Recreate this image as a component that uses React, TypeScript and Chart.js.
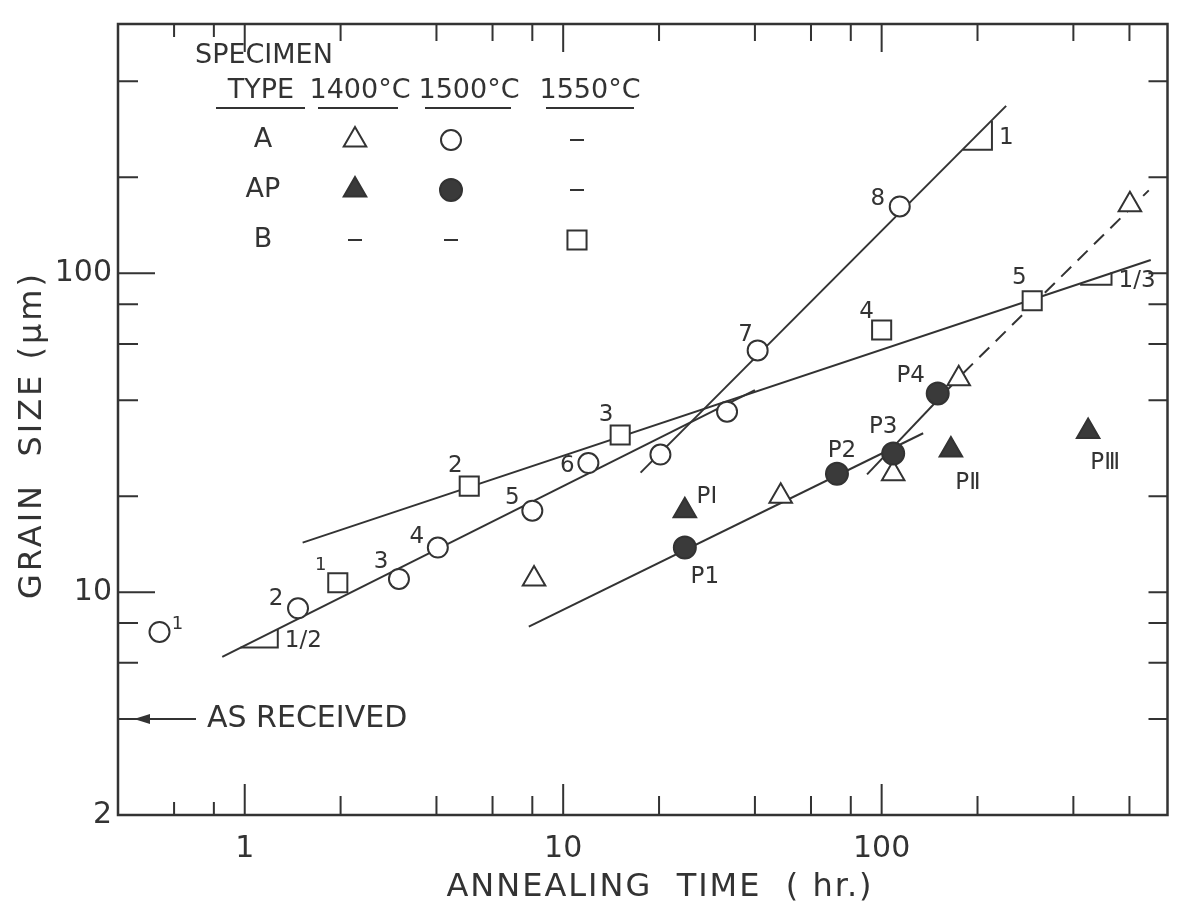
import React, { useEffect, useRef } from "react";
import { Chart, registerables } from "chart.js";
import { drawPoint } from "chart.js/helpers";

Chart.register(...registerables);

const FONT = '"DejaVu Sans", sans-serif';
const INK = "#333333";
const DARK = "#3a3a3a";

// ---- axis ticks ----
const xTickLabels = [1, 10, 100];
const yTickLabels = [2, 10, 100];
const xTickMarks = [0.6, 0.8, 1, 2, 4, 6, 8, 10, 20, 40, 60, 80, 100, 200, 400, 600];
const yTickMarks = [4, 6, 8, 10, 20, 40, 60, 80, 100, 200, 400];
const xMajor = [1, 10, 100];
const yMajor = [10, 100];

// ---- Type A, 1500°C (open circles) ----
const a1500Time = [0.54, 1.47, 3.05, 4.04, 8.0, 12.0, 20.2, 32.7, 40.8, 114];
const a1500Size = [7.5, 8.9, 11.0, 13.8, 18.0, 25.4, 27.0, 36.8, 57.3, 162];
const a1500Tags = ["1", "2", "3", "4", "5", "6", "", "", "7", "8"];

// ---- Type AP, 1500°C (filled circles) ----
const ap1500Time = [24.1, 72.4, 108.7, 150];
const ap1500Size = [13.8, 23.5, 27.2, 42.0];
const ap1500Tags = ["P1", "P2", "P3", "P4"];

// ---- Type A, 1400°C (open triangles) ----
const a1400Time = [8.1, 48.2, 108.7, 174.6, 602];
const a1400Size = [11.0, 20.0, 23.5, 46.7, 164];

// ---- Type AP, 1400°C (filled triangles) ----
const ap1400Time = [24.1, 165, 445];
const ap1400Size = [18.0, 27.9, 31.9];
const ap1400Tags = ["P\u2160", "P\u2161", "P\u2162"];

// ---- Type B, 1550°C (open squares) ----
const b1550Time = [1.96, 5.07, 15.1, 100, 297];
const b1550Size = [10.7, 21.5, 31.1, 66.4, 82];
const b1550Tags = ["1", "2", "3", "4", "5"];

// ---- fitted lines ----
const fitHalfTime = [0.85, 40];
const fitHalfSize = [6.27, 43];
const fitThirdTime = [1.52, 700];
const fitThirdSize = [14.3, 110];
const fitOneTime = [17.5, 246];
const fitOneSize = [23.7, 335];
const fitPTime = [7.8, 135];
const fitPSize = [7.8, 31.5];
const fitSteepTime = [90, 180];
const fitSteepSize = [23.4, 48.5];
const fitDashTime = [180, 690];
const fitDashSize = [48.5, 182];

// ---- slope triangles ----
const slopeHalfTime = [0.97, 1.27, 1.27];
const slopeHalfSize = [6.7, 6.7, 7.66];
const slopeOneTime = [180, 222, 222];
const slopeOneSize = [244, 244, 301];
const slopeThirdTime = [420, 527, 527];
const slopeThirdSize = [92, 92, 101];
const slopeTags = ["1/2", "1", "1/3"];

const asReceivedSize = 4;

const pts = (xs: number[], ys: number[]) => xs.map((x, i) => ({ x, y: ys[i] }));

// marker styles
const MK = {
  openCircle: { pointStyle: "circle", radius: 10, fill: "#ffffff" },
  fillCircle: { pointStyle: "circle", radius: 11, fill: DARK },
  openTri: { pointStyle: "triangle", radius: 13, fill: "#ffffff" },
  fillTri: { pointStyle: "triangle", radius: 13, fill: DARK },
  openSq: { pointStyle: "rect", radius: 13.5, fill: "#ffffff" },
};

const markerDataset = (data: any, mk: any) => ({
  data,
  showLine: false,
  pointStyle: mk.pointStyle,
  pointRadius: mk.radius,
  pointBackgroundColor: mk.fill,
  pointBorderColor: INK,
  pointBorderWidth: 2,
  order: 0,
});

const lineDataset = (data: any, dash: number[] = []) => ({
  data,
  showLine: true,
  pointRadius: 0,
  borderColor: INK,
  borderWidth: 2,
  borderDash: dash,
  fill: false,
  order: 1,
});

// label offsets (pixels from the marker centre) for each tagged dataset
const tagOffsets: Record<number, [number, number][]> = {
  0: [[18, -8], [-22, -9], [-18, -17], [-21, -10], [-20, -13], [-21, 3], [0, 0], [0, 0], [-12, -15], [-22, -7]],
  1: [[20, 30], [5, -23], [-10, -27], [-27, -17]],
  3: [[22, -14], [17, 33], [17, 32]],
  4: [[-17, -17], [-14, -20], [-14, -20], [-15, -18], [-13, -23]],
};
const tagTexts: Record<number, string[]> = {
  0: a1500Tags,
  1: ap1500Tags,
  3: ap1400Tags,
  4: b1550Tags,
};

const overlay = {
  id: "overlay",
  afterDraw(chart: any) {
    const { ctx, chartArea: ca, scales } = chart;
    const xs = scales.x;
    const ys = scales.y;
    ctx.save();
    ctx.strokeStyle = INK;
    ctx.fillStyle = INK;

    // frame
    ctx.lineWidth = 2.5;
    ctx.strokeRect(ca.left, ca.top, ca.right - ca.left, ca.bottom - ca.top);

    // tick marks (inward)
    ctx.lineWidth = 2;
    ctx.beginPath();
    xTickMarks.forEach((v) => {
      const px = xs.getPixelForValue(v);
      const major = xMajor.includes(v);
      const lenB = major ? 31 : v < 1 ? 13 : 19;
      const lenT = major ? 28 : v < 1 ? 13 : 17;
      ctx.moveTo(px, ca.bottom);
      ctx.lineTo(px, ca.bottom - lenB);
      ctx.moveTo(px, ca.top);
      ctx.lineTo(px, ca.top + lenT);
    });
    yTickMarks.forEach((v) => {
      const py = ys.getPixelForValue(v);
      const major = yMajor.includes(v);
      const lenL = major ? 37 : 20;
      ctx.moveTo(ca.left, py);
      ctx.lineTo(ca.left + lenL, py);
      ctx.moveTo(ca.right, py);
      ctx.lineTo(ca.right - 19, py);
    });
    ctx.stroke();

    // axis titles
    ctx.textAlign = "center";
    ctx.textBaseline = "middle";
    ctx.font = `32px ${FONT}`;
    (ctx as any).letterSpacing = "2px";
    ctx.fillText("ANNEALING  TIME  ( hr.)", 660, 888);
    ctx.save();
    ctx.translate(33, 435);
    ctx.rotate(-Math.PI / 2);
    (ctx as any).letterSpacing = "3px";
    ctx.fillText("GRAIN  SIZE (\u03bcm)", 0, 0);
    ctx.restore();
    (ctx as any).letterSpacing = "0px";

    // as received arrow
    const ar = ys.getPixelForValue(asReceivedSize);
    const ax0 = ca.left + 16;
    ctx.beginPath();
    ctx.moveTo(ax0 + 14, ar);
    ctx.lineTo(ca.left + 78, ar);
    ctx.stroke();
    ctx.beginPath();
    ctx.moveTo(ax0, ar);
    ctx.lineTo(ax0 + 16, ar - 5);
    ctx.lineTo(ax0 + 16, ar + 5);
    ctx.closePath();
    ctx.fill();
    ctx.textAlign = "left";
    ctx.font = `30px ${FONT}`;
    ctx.fillText("AS RECEIVED", ca.left + 89, ar);

    // legend table
    const L = ca.left;
    const T = ca.top;
    ctx.font = `27px ${FONT}`;
    ctx.textAlign = "left";
    ctx.fillText("SPECIMEN", L + 77, T + 32);
    ctx.textAlign = "center";
    ctx.fillText("TYPE", L + 143, T + 67);
    ctx.fillText("1400\u00b0C", L + 242, T + 67);
    ctx.fillText("1500\u00b0C", L + 351, T + 67);
    ctx.fillText("1550\u00b0C", L + 472, T + 67);
    ctx.lineWidth = 2;
    ctx.beginPath();
    [[98, 187], [200, 280], [307, 393], [428, 516]].forEach(([a, b]) => {
      ctx.moveTo(L + a, T + 84);
      ctx.lineTo(L + b, T + 84);
    });
    ctx.stroke();
    const rowY = [T + 116, T + 166, T + 216];
    const colX = [L + 237, L + 333, L + 459];
    ctx.fillText("A", L + 145, rowY[0]);
    ctx.fillText("AP", L + 145, rowY[1]);
    ctx.fillText("B", L + 145, rowY[2]);
    const legendCells = [
      [MK.openTri, MK.openCircle, null],
      [MK.fillTri, MK.fillCircle, null],
      [null, null, MK.openSq],
    ];
    legendCells.forEach((row, r) =>
      row.forEach((mk: any, c) => {
        const cx = colX[c];
        const cy = rowY[r];
        if (mk) {
          ctx.fillStyle = mk.fill;
          ctx.strokeStyle = INK;
          ctx.lineWidth = 2;
          drawPoint(ctx, { pointStyle: mk.pointStyle, radius: mk.radius, rotation: 0, borderWidth: 2 } as any, cx, cy);
        } else {
          ctx.strokeStyle = INK;
          ctx.lineWidth = 2;
          ctx.beginPath();
          ctx.moveTo(cx - 7, cy);
          ctx.lineTo(cx + 7, cy);
          ctx.stroke();
        }
      })
    );
    ctx.fillStyle = INK;

    // point tags
    ctx.textAlign = "center";
    ctx.textBaseline = "middle";
    Object.keys(tagTexts).forEach((k) => {
      const di = Number(k);
      const meta = chart.getDatasetMeta(di);
      tagTexts[di].forEach((t, j) => {
        if (!t) return;
        const el = meta.data[j];
        const [dx, dy] = tagOffsets[di][j];
        const small = (di === 0 || di === 4) && j === 0;
        ctx.font = `${small ? 18 : 23}px ${FONT}`;
        ctx.fillText(t, el.x + dx, el.y + dy);
      });
    });

    // slope labels: beside the vertical edge of each slope triangle
    [11, 12, 13].forEach((di, i) => {
      const meta = chart.getDatasetMeta(di);
      const p1 = meta.data[1];
      const p2 = meta.data[2];
      ctx.textAlign = "left";
      ctx.font = `23px ${FONT}`;
      ctx.fillText(slopeTags[i], p1.x + 7, (p1.y + p2.y) / 2 + 3);
    });

    ctx.restore();
  },
};

export default function App() {
  const ref = useRef<HTMLCanvasElement>(null);
  useEffect(() => {
    document.body.style.margin = "0";
    const chart = new Chart(ref.current as HTMLCanvasElement, {
      type: "scatter",
      data: {
        datasets: [
          markerDataset(pts(a1500Time, a1500Size), MK.openCircle), // 0
          markerDataset(pts(ap1500Time, ap1500Size), MK.fillCircle), // 1
          markerDataset(pts(a1400Time, a1400Size), MK.openTri), // 2
          markerDataset(pts(ap1400Time, ap1400Size), MK.fillTri), // 3
          markerDataset(pts(b1550Time, b1550Size), MK.openSq), // 4
          lineDataset(pts(fitHalfTime, fitHalfSize)), // 5
          lineDataset(pts(fitThirdTime, fitThirdSize)), // 6
          lineDataset(pts(fitOneTime, fitOneSize)), // 7
          lineDataset(pts(fitPTime, fitPSize)), // 8
          lineDataset(pts(fitSteepTime, fitSteepSize)), // 9
          lineDataset(pts(fitDashTime, fitDashSize), [14, 9]), // 10
          lineDataset(pts(slopeHalfTime, slopeHalfSize)), // 11
          lineDataset(pts(slopeOneTime, slopeOneSize)), // 12
          lineDataset(pts(slopeThirdTime, slopeThirdSize)), // 13
        ] as any,
      },
      options: {
        responsive: false,
        animation: false,
        devicePixelRatio: 1,
        layout: { padding: { top: 17, right: 5, left: 0, bottom: 0 } },
        plugins: { legend: { display: false }, tooltip: { enabled: false } },
        scales: {
          x: {
            type: "logarithmic",
            position: "bottom",
            min: 0.4,
            max: 790,
            afterBuildTicks: (s: any) => {
              s.ticks = xTickLabels.map((v) => ({ value: v }));
            },
            afterFit: (s: any) => {
              s.height = 106;
            },
            ticks: {
              callback: (v: any) => String(v),
              font: { family: FONT, size: 30 },
              color: INK,
              padding: 16,
              maxRotation: 0,
              autoSkip: false,
            },
            grid: { display: false, drawTicks: false },
            border: { display: false },
          },
          y: {
            type: "logarithmic",
            min: 2,
            max: 605,
            afterBuildTicks: (s: any) => {
              s.ticks = yTickLabels.map((v) => ({ value: v }));
            },
            afterFit: (s: any) => {
              s.width = 118;
            },
            ticks: {
              callback: (v: any) => String(v),
              font: { family: FONT, size: 30 },
              color: INK,
              padding: 6,
              autoSkip: false,
            },
            grid: { display: false, drawTicks: false },
            border: { display: false },
          },
        },
      } as any,
      plugins: [overlay],
    });
    return () => chart.destroy();
  }, []);
  return <canvas ref={ref} width={1183} height={921} style={{ display: "block" }} />;
}
